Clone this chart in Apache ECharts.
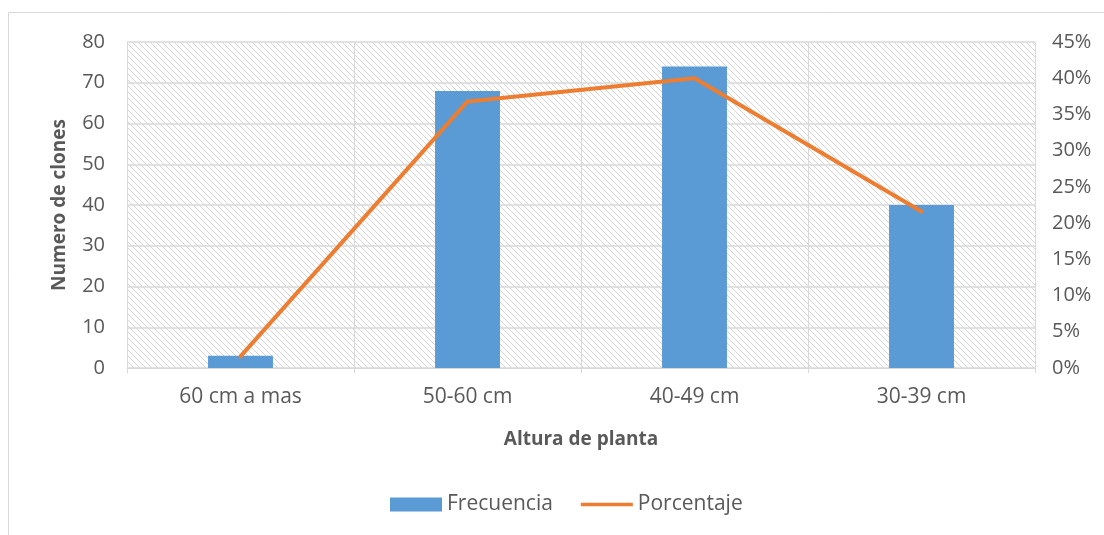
<!DOCTYPE html>
<html>
<head>
<meta charset="utf-8">
<script src="https://cdn.jsdelivr.net/npm/echarts@6/dist/echarts.min.js"></script>
<style>
html,body{margin:0;padding:0;background:#fff;}
#chart{width:1104px;height:535px;}
</style>
</head>
<body>
<div id="chart"></div>
<script>
// Plant height classes and clone counts
const categories = ['60 cm a mas', '50-60 cm', '40-49 cm', '30-39 cm'];
const frecuencia = [3, 68, 74, 40];
const porcentaje = [1.6, 36.8, 40.0, 21.6];
const leftTicks = [0, 10, 20, 30, 40, 50, 60, 70, 80];
const rightTicks = [0, 5, 10, 15, 20, 25, 30, 35, 40, 45];

// Diagonal hatch used as the plot area fill
function hatchPattern() {
  const s = 6;
  const c = document.createElement('canvas');
  c.width = s; c.height = s;
  const g = c.getContext('2d');
  g.fillStyle = '#ffffff';
  g.fillRect(0, 0, s, s);
  g.strokeStyle = '#d6d6d6';
  g.lineWidth = 1;
  g.beginPath();
  g.moveTo(-1, -1); g.lineTo(s + 1, s + 1);
  g.moveTo(-1, s - 1); g.lineTo(1, s + 1);
  g.moveTo(s - 1, -1); g.lineTo(s + 1, 1);
  g.stroke();
  return { image: c, repeat: 'repeat' };
}

const font = '"Open Sans", "Noto Sans", sans-serif';
const textColor = '#595959';
const gridColor = '#d9d9d9';

const chart = echarts.init(document.getElementById('chart'), null, { renderer: 'canvas' });
chart.setOption({
  backgroundColor: '#ffffff',
  animation: false,
  textStyle: { fontFamily: font },
  graphic: [{
    type: 'rect',
    shape: { x: 8.5, y: 12.5, width: 1200, height: 600 },
    style: { fill: 'none', stroke: '#d9d9d9', lineWidth: 1 },
    silent: true
  }],
  grid: {
    left: 127, right: 69, top: 42, bottom: 167,
    show: true,
    backgroundColor: hatchPattern(),
    borderWidth: 0
  },
  legend: {
    bottom: 15,
    left: 385,
    itemGap: 28,
    textStyle: { color: textColor, fontSize: 21, fontFamily: font },
    data: [
      { name: 'Frecuencia', icon: 'rect', itemStyle: { color: '#5b9bd5' } },
      { name: 'Porcentaje', icon: 'path://M0,0 L60,0 L60,4 L0,4 Z', itemStyle: { color: '#ed7d31' } }
    ],
    itemWidth: 52, itemHeight: 14
  },
  xAxis: {
    type: 'category',
    data: categories,
    boundaryGap: true,
    name: 'Altura de planta',
    nameLocation: 'middle',
    nameGap: 62,
    nameTextStyle: { color: textColor, fontSize: 19, fontWeight: 'bold', fontFamily: font },
    axisLine: { show: true, lineStyle: { color: gridColor, width: 1 } },
    axisTick: { show: true, length: 5, lineStyle: { color: gridColor } },
    axisLabel: { color: textColor, fontSize: 21, margin: 19, fontFamily: font },
    splitLine: { show: true, lineStyle: { color: gridColor, width: 1 } }
  },
  yAxis: [{
    type: 'value',
    min: leftTicks[0], max: leftTicks[leftTicks.length - 1], interval: 10,
    name: 'Numero de clones',
    nameLocation: 'middle',
    nameGap: 58,
    nameTextStyle: { color: textColor, fontSize: 19, fontWeight: 'bold', fontFamily: font },
    axisLine: { show: true, lineStyle: { color: gridColor } },
    axisTick: { show: false },
    axisLabel: { color: textColor, fontSize: 20, margin: 22, fontFamily: font },
    splitLine: { show: true, lineStyle: { color: gridColor, width: 1.5 } }
  }, {
    type: 'value',
    min: rightTicks[0], max: rightTicks[rightTicks.length - 1], interval: 5,
    position: 'right',
    axisLine: { show: true, lineStyle: { color: gridColor } },
    axisTick: { show: false },
    axisLabel: { color: textColor, fontSize: 20, margin: 17, fontFamily: font, formatter: v => v + '%' },
    splitLine: { show: false }
  }],
  series: [{
    name: 'Frecuencia',
    type: 'bar',
    data: frecuencia,
    barWidth: '28.6%',
    itemStyle: { color: '#5b9bd5' },
    z: 2
  }, {
    name: 'Porcentaje',
    type: 'line',
    yAxisIndex: 1,
    data: porcentaje,
    symbol: 'none',
    lineStyle: { color: '#ed7d31', width: 4, cap: 'round', join: 'round' },
    itemStyle: { color: '#ed7d31' },
    z: 3
  }]
});
</script>
</body>
</html>
